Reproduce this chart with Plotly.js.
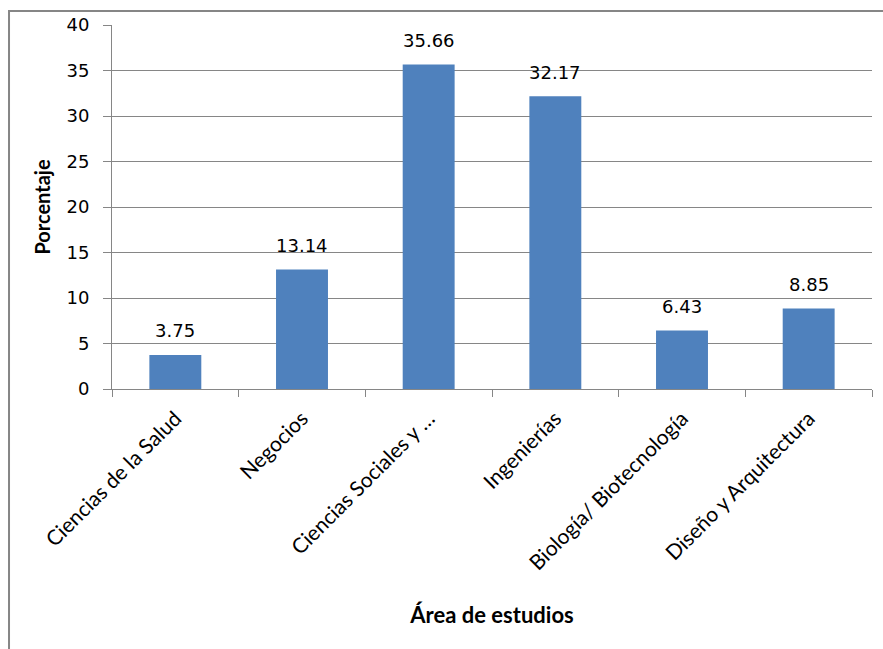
<!DOCTYPE html>
<html>
<head>
<meta charset="utf-8">
<script src="https://cdn.plot.ly/plotly-3.0.1.min.js"></script>
<style>html,body{margin:0;padding:0;background:#fff;}#chart{width:883px;height:649px;}</style>
</head>
<body>
<div id="chart"></div>
<script>
var categories = ["Ciencias de la Salud", "Negocios", "Ciencias Sociales y \u2026", "Ingenier\u00edas", "Biolog\u00eda/ Biotecnolog\u00eda", "Dise\u00f1o y Arquitectura"];
var values = [3.75, 13.14, 35.66, 32.17, 6.43, 8.85];
var yTicks = [0, 5, 10, 15, 20, 25, 30, 35, 40];

var numFont = {family: "DejaVu Sans", size: 18, color: "#000"};
var lblFont = {family: "Lato, 'Open Sans', sans-serif", size: 21, color: "#000"};

var annotations = categories.map(function (c, i) {
  return {x: c, y: values[i], xref: "x", yref: "y", text: values[i].toFixed(2),
    showarrow: false, yanchor: "middle", yshift: 24, font: numFont};
});

var layout = {
  width: 883, height: 649,
  margin: {l: 112, r: 11, t: 25, b: 260},
  paper_bgcolor: "#fff", plot_bgcolor: "#fff",
  bargap: 0.59,
  showlegend: false,
  xaxis: {
    type: "category",
    tickangle: -45,
    tickfont: lblFont,
    ticks: "outside", ticklen: 7, tickcolor: "#868686",
    ticklabelstandoff: 8,
    tickson: "boundaries",
    showline: true, linecolor: "#868686", linewidth: 1,
    showgrid: false,
    title: {text: "\u00c1rea de estudios", font: {family: "Lato, 'Open Sans', sans-serif", size: 22, color: "#000", weight: "bold"}, standoff: 34}
  },
  yaxis: {
    range: [0, 40],
    tickvals: yTicks,
    ticktext: yTicks.map(String),
    tickfont: numFont,
    ticks: "outside", ticklen: 8, tickcolor: "#868686",
    ticklabelstandoff: 10,
    showline: true, linecolor: "#868686", linewidth: 1,
    showgrid: true, gridcolor: "#868686", gridwidth: 1,
    zeroline: false,
    title: {text: "Porcentaje", font: {family: "Lato, 'Open Sans', sans-serif", size: 20, color: "#000", weight: "bold"}, standoff: 10}
  },
  annotations: annotations,
  shapes: [{
    type: "rect", xref: "paper", yref: "paper",
    x0: -0.1355, x1: 1.05, y0: -0.8, y1: 1.0385,
    line: {color: "#868686", width: 2}, fillcolor: "rgba(0,0,0,0)", layer: "above"
  }]
};

Plotly.newPlot("chart", [{
  type: "bar",
  x: categories,
  y: values,
  marker: {color: "#4F81BD", line: {width: 0}},
  hoverinfo: "none"
}], layout, {displayModeBar: false, staticPlot: true});
</script>
</body>
</html>
